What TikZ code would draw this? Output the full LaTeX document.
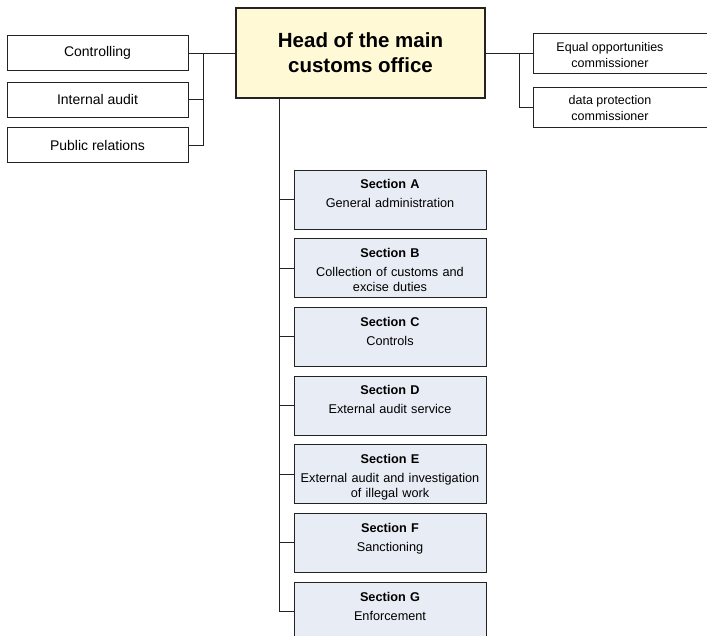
\documentclass[tikz,border=0pt]{standalone}
\usepackage{fontspec}
\setmainfont{Liberation Sans}
\usetikzlibrary{positioning}
\definecolor{headfill}{RGB}{255,249,214}
\definecolor{secfill}{RGB}{232,236,245}
\definecolor{linegray}{RGB}{35,35,35}

\begin{document}
\begin{tikzpicture}[x=1pt, y=-1pt,
  head/.style={draw=linegray, fill=headfill, line width=1.1pt, minimum width=249pt,
               minimum height=90pt, align=center, font=\fontsize{20.5}{25}\selectfont\bfseries},
  staff/.style={draw=linegray, line width=0.9pt, minimum width=181pt, minimum height=35pt,
                font=\fontsize{14}{16}\selectfont},
  commbox/.style={draw=linegray, line width=0.9pt, minimum width=190pt, minimum height=40pt},
  commtext/.style={align=center, font=\fontsize{12.5}{16}\selectfont},
  section/.style={draw=linegray, fill=secfill, line width=0.9pt, minimum width=192pt,
                  minimum height=59pt, text width=184pt, align=center, inner ysep=4pt,
                  text height=15pt, text depth=36pt, font=\fontsize{12.7}{15}\selectfont},
  link/.style={linegray, line width=0.8pt}
]
  \clip (0,0) rectangle (707,636);

  % head and staff units
  \node[head] (head) at (360.5,53) {Head of the main\\customs office};
  \node[staff] (ctrl)  at (97.5,53)   {Controlling};
  \node[staff] (audit) at (97.5,99.5) {Internal audit};
  \node[staff] (pr)    at (97.5,145)  {Public relations};

  \node[commbox] (eq) at (628,53)  {};
  \node[commbox] (dp) at (628,107) {};
  \node[commtext] (eqtext) at (610,55.5)  {Equal opportunities\\commissioner};
  \node[commtext] (dptext) at (610,108.5) {data protection\\commissioner};

  % sections
  \node[section] (secA) at (390,199.5) {\textbf{Section A}\\[4pt]General administration};
  \node[section] (secB) at (390,268.2) {\textbf{Section B}\\[4pt]Collection of customs and\\excise duties};
  \node[section] (secC) at (390,336.8) {\textbf{Section C}\\[4pt]Controls};
  \node[section] (secD) at (390,405.5) {\textbf{Section D}\\[4pt]External audit service};
  \node[section] (secE) at (390,474.2) {\textbf{Section E}\\[4pt]External audit and investigation\\of illegal work};
  \node[section] (secF) at (390,542.8) {\textbf{Section F}\\[4pt]Sanctioning};
  \node[section] (secG) at (390,611.5) {\textbf{Section G}\\[4pt]Enforcement};

  % connectors
  \coordinate (lspine) at (203,53);
  \coordinate (rspine) at (519,53);
  \coordinate (hbot) at (279,98);
  \draw[link] (head.west) -- (ctrl.east);
  \draw[link] (lspine) |- (audit.east);
  \draw[link] (lspine) |- (pr.east);
  \draw[link] (head.east) -- (eq.west);
  \draw[link] (rspine) |- (dp.west);
  \foreach \s in {A,...,G}
    \draw[link] (hbot) |- (sec\s.west);
\end{tikzpicture}
\end{document}
